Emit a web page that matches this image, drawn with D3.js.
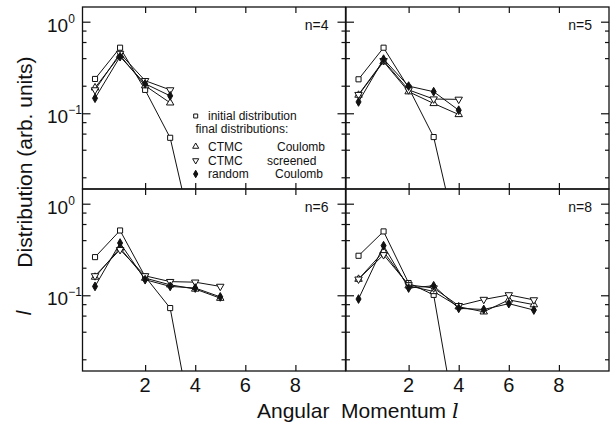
<!DOCTYPE html>
<html>
<head>
<meta charset="utf-8">
<script src="https://cdn.jsdelivr.net/npm/d3@7"></script>
<style>
  body { margin: 0; background: #fff; }
  text { font-family: "Liberation Sans", Arial, sans-serif; fill: #111; }
</style>
</head>
<body>
<svg id="chart" width="611" height="425"></svg>
<script>
//Angular momentum values (x)
var ells = [0, 1, 2, 3, 4, 5, 6, 7]
var panelLabels = ["n=4", "n=5", "n=6", "n=8"]
var xTicks = [2, 4, 6, 8]
var yMajor = [1, 0.1]
var yMinor = [0.8, 0.6, 0.4, 0.2, 0.08, 0.06, 0.04, 0.02]
var yTickExp = ["0", "\u22121"]

// n=4
var initN4 = [0.237, 0.52, 0.18, 0.054, 0.0035]
var ctmcCoulN4 = [0.19, 0.43, 0.20, 0.13]
var ctmcScrN4 = [0.18, 0.45, 0.227, 0.18]
var randomN4 = [0.146, 0.415, 0.21, 0.155]

// n=5
var initN5 = [0.235, 0.52, 0.19, 0.055, 0.0036]
var ctmcCoulN5 = [0.158, 0.366, 0.172, 0.128, 0.097]
var ctmcScrN5 = [0.16, 0.375, 0.18, 0.143, 0.142]
var randomN5 = [0.133, 0.39, 0.198, 0.172, 0.108]

// n=6
var initN6 = [0.261, 0.51, 0.16, 0.0725, 0.0025]
var ctmcCoulN6 = [0.158, 0.328, 0.154, 0.13, 0.117, 0.093]
var ctmcScrN6 = [0.163, 0.315, 0.163, 0.141, 0.139, 0.125]
var randomN6 = [0.125, 0.372, 0.148, 0.125, 0.12, 0.096]

// n=8
var initN8 = [0.27, 0.498, 0.136, 0.101, 0.0027]
var ctmcCoulN8 = [0.15, 0.30, 0.127, 0.11, 0.075, 0.066, 0.089, 0.079]
var ctmcScrN8 = [0.15, 0.277, 0.13, 0.12, 0.077, 0.09, 0.101, 0.089]
var randomN8 = [0.091, 0.348, 0.12, 0.127, 0.072, 0.07, 0.081, 0.069]

var initAll = [initN4, initN5, initN6, initN8]
var coulAll = [ctmcCoulN4, ctmcCoulN5, ctmcCoulN6, ctmcCoulN8]
var scrAll = [ctmcScrN4, ctmcScrN5, ctmcScrN6, ctmcScrN8]
var randAll = [randomN4, randomN5, randomN6, randomN8]

// layout
const panelW = 263, panelH = 182;
const panelPos = [[82.5, 7], [346, 7], [82.5, 189], [346, 189]];

const svg = d3.select("#chart");

const x = d3.scaleLinear().domain([-0.5, 10]).range([0, panelW]);
const y = d3.scaleLog().domain([0.0149, 1.447]).range([panelH, 0]);

// symbols
const symSquare = d3.symbol().type(d3.symbolSquare).size(26);
const symUp = d3.symbol().type(d3.symbolTriangle).size(24);
const symDown = d3.symbol().type(d3.symbolTriangle).size(24);
const symDiamond = d3.symbol().type(d3.symbolDiamond).size(22);

var series = [
    { list: initAll, sym: symSquare, rot: 0, fill: "#fff" },
    { list: coulAll, sym: symUp, rot: 0, fill: "#fff" },
    { list: scrAll, sym: symDown, rot: 180, fill: "#fff" },
    { list: randAll, sym: symDiamond, rot: 0, fill: "#111" }
];

const line = d3.line()
    .x((d, i) => x(ells[i]))
    .y(d => y(d));

panelPos.forEach(function (p, k) {
    const g = svg.append("g").attr("transform", `translate(${p[0]},${p[1]})`);

    // clip for data
    svg.append("clipPath").attr("id", "clip" + k)
        .append("rect").attr("width", panelW).attr("height", panelH);

    // frame
    g.append("rect")
        .attr("width", panelW).attr("height", panelH)
        .attr("fill", "none").attr("stroke", "#111").attr("stroke-width", 1.3);

    // x ticks (inward, top and bottom)
    g.append("g").call(d3.axisTop(x).tickValues(xTicks).tickSize(-6).tickFormat(""));
    g.append("g").attr("transform", `translate(0,${panelH})`)
        .call(d3.axisBottom(x).tickValues(xTicks).tickSize(-6).tickFormat(""));

    // y ticks (inward, left and right)
    g.append("g").call(d3.axisLeft(y).tickValues(yMajor).tickSize(-8).tickFormat(""));
    g.append("g").call(d3.axisLeft(y).tickValues(yMinor).tickSize(-4).tickFormat(""));
    g.append("g").attr("transform", `translate(${panelW},0)`)
        .call(d3.axisRight(y).tickValues(yMajor).tickSize(-8).tickFormat(""));
    g.append("g").attr("transform", `translate(${panelW},0)`)
        .call(d3.axisRight(y).tickValues(yMinor).tickSize(-4).tickFormat(""));

    g.selectAll(".domain").remove();
    g.selectAll(".tick line").attr("stroke", "#111").attr("stroke-width", 1.2);

    // y tick labels on the left panels
    if (k % 2 == 0) {
        yMajor.forEach(function (v, i) {
            const t = g.append("text")
                .attr("x", -35.5)
                .attr("y", y(v) + 10)
                .attr("font-size", 19)
                .text("10");
            t.append("tspan").attr("dy", -9).attr("font-size", 12).text(yTickExp[i]);
        });
    }

    // x tick labels on the bottom panels
    if (k >= 2) {
        g.selectAll(".xlab")
            .data(xTicks)
            .enter().append("text")
            .attr("x", d => x(d))
            .attr("y", panelH + 21)
            .attr("text-anchor", "middle")
            .attr("font-size", 20)
            .text(d => d);
    }

    // panel label
    g.append("text")
        .attr("x", 246).attr("y", 23)
        .attr("text-anchor", "end")
        .attr("font-size", 14)
        .text(panelLabels[k]);

    // data
    const dg = g.append("g").attr("clip-path", `url(#clip${k})`);
    series.forEach(function (s) {
        const vals = s.list[k];
        dg.append("path")
            .attr("d", line(vals))
            .attr("fill", "none")
            .attr("stroke", "#111")
            .attr("stroke-width", 1);
        dg.selectAll(null)
            .data(vals.filter(v => v > 0.0149))
            .enter().append("path")
            .attr("d", s.sym)
            .attr("transform", (d, i) => `translate(${x(ells[i])},${y(d)}) rotate(${s.rot})`)
            .attr("fill", s.fill)
            .attr("stroke", "#111")
            .attr("stroke-width", 1);
    });

    // legend in first panel
    if (k == 0) {
        const lg = svg.append("g");
        const legRows = [
            { sym: symSquare, rot: 0, fill: "#fff", y: 116, a: "initial distribution", b: "" },
            { sym: null, y: 129, a: "final distributions:", b: "" },
            { sym: symUp, rot: 0, fill: "#fff", y: 146.5, a: "CTMC", b: "Coulomb", bx: 277 },
            { sym: symDown, rot: 180, fill: "#fff", y: 160.5, a: "CTMC", b: "screened", bx: 267 },
            { sym: symDiamond, rot: 0, fill: "#111", y: 174, a: "random", b: "Coulomb", bx: 275 }
        ];
        legRows.forEach(function (r) {
            if (r.sym) {
                lg.append("path")
                    .attr("d", r.sym.size(16)())
                    .attr("transform", `translate(195.7,${r.y}) rotate(${r.rot})`)
                    .attr("fill", r.fill).attr("stroke", "#111").attr("stroke-width", 1);
            }
            lg.append("text")
                .attr("x", r.sym ? 208 : 195.5)
                .attr("y", r.y + 4.2)
                .attr("font-size", 12)
                .text(r.a);
            if (r.b) {
                lg.append("text")
                    .attr("x", r.bx)
                    .attr("y", r.y + 4.2)
                    .attr("font-size", 12)
                    .text(r.b);
            }
        });
        // reset symbol sizes
        symSquare.size(26); symUp.size(24); symDown.size(24); symDiamond.size(22);
    }
});

// x-axis label
const xl = svg.append("text")
    .attr("x", 257).attr("y", 418)
    .attr("font-size", 21)
    .attr("xml:space", "preserve")
    .text("Angular  Momentum ");
xl.append("tspan").attr("font-style", "italic").attr("font-family", "DejaVu Serif").text("l");

// y-axis label
svg.append("text")
    .attr("transform", "translate(32,162) rotate(-90)")
    .attr("text-anchor", "middle")
    .attr("font-size", 21)
    .text("Distribution (arb. units)");
svg.append("text")
    .attr("transform", "translate(31,313) rotate(-90)")
    .attr("text-anchor", "middle")
    .attr("font-size", 20)
    .attr("font-style", "italic")
    .attr("font-family", "DejaVu Serif")
    .text("l");
</script>
</body>
</html>
